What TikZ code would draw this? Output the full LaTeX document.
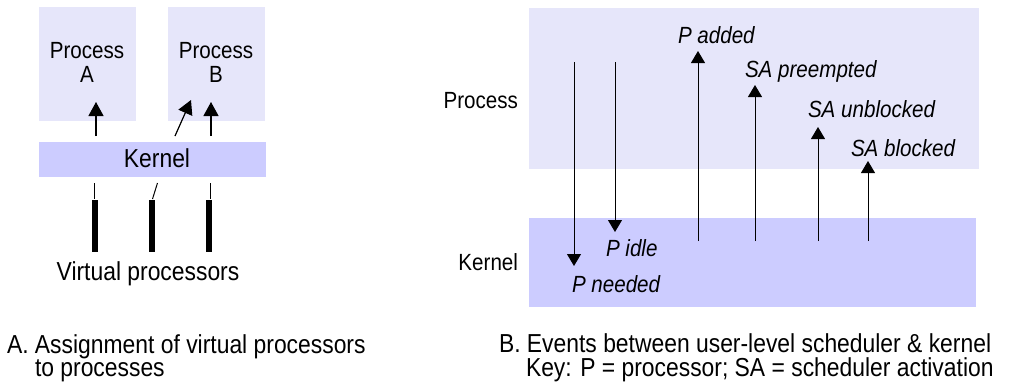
\documentclass[tikz,border=0pt]{standalone}
\usepackage{fontspec}
\setmainfont{Liberation Sans}[FakeStretch=0.88]
\usetikzlibrary{arrows.meta,positioning}
\definecolor{procfill}{HTML}{E6E6FA}
\definecolor{kernfill}{HTML}{CCCCFF}

\begin{document}
\begin{tikzpicture}[x=0.5pt, y=-0.5pt, every node/.style={inner sep=0pt, outer sep=0pt},
  lbl/.style={font=\fontsize{11.7}{14}\selectfont, anchor=base},
  big/.style={font=\fontsize{13}{16}\selectfont, anchor=base},
  captxt/.style={font=\fontsize{13}{16}\selectfont, anchor=base west},
  evt/.style={font=\fontsize{11.7}{14}\selectfont\itshape, anchor=base west},
  arr/.style={-{Triangle[length=7pt,width=7.5pt]}, line width=0.6pt},
  evarr/.style={-{Triangle[length=6pt,width=7pt]}, line width=0.5pt},
  bar/.style={line width=3pt}]
\useasboundingbox (0,0) rectangle (1013,387);
% A: assignment of virtual processors
\fill[procfill] (39,7) rectangle (136,121);
\fill[procfill] (168,7) rectangle (265,121);
\fill[kernfill] (39,142) rectangle (266,177);
\node[lbl] (pa1) at (87,58) {Process};
\node[lbl] (pa2) at (87,82) {A};
\node[lbl] (pb1) at (216,58) {Process};
\node[lbl] (pb2) at (216,82) {B};
\node[big] (kern) at (157,167) {Kernel};
\coordinate (ka) at (96,136);
\coordinate (ka') at (96,102);
\coordinate (kb) at (175,136);
\coordinate (kb') at (191,100);
\coordinate (kc) at (211,136);
\coordinate (kc') at (211,102);
\draw[arr] (ka) -- (ka');
\draw[arr] (kb) -- (kb');
\draw[arr] (kc) -- (kc');
\draw[line width=0.5pt] (94.5,183) -- (94.5,199);
\draw[line width=0.5pt] (157.5,183) -- (152.5,199);
\draw[line width=0.5pt] (210,183) -- (210,199);
\draw[bar] (95,200) -- (95,252);
\draw[bar] (152,200) -- (152,252);
\draw[bar] (209,200) -- (209,252);
\node[big] (vp) at (148,280) {Virtual processors};
\node[captxt] (capA) at (7,353) {A. Assignment of virtual processors};
\node[captxt] (capA2) at (35,376) {to processes};
% B: events between user-level scheduler and kernel
\fill[procfill] (529,8) rectangle (979,169);
\fill[kernfill] (529,218) rectangle (976,307);
\node[lbl, anchor=base east] (lproc) at (518,108) {Process};
\node[lbl, anchor=base east] (lkern) at (518,270) {Kernel};
\coordinate (n1) at (574,62);
\coordinate (n2) at (574,266);
\coordinate (i1) at (615,62);
\coordinate (i2) at (615,232);
\draw[evarr] (n1) -- (n2);
\draw[evarr] (i1) -- (i2);
\node[evt] (pidle) at (606,256) {P idle};
\node[evt] (pneed) at (572,292) {P needed};
\foreach \x/\tip/\lx/\ly/\name/\txt in {698/51/678/43/padd/P added,
    755/85/745/77/sapre/SA preempted, 818/127/808/117/saunb/SA unblocked,
    868/161/851/156/sablk/SA blocked}{
  \coordinate (\name0) at (\x,241);
  \coordinate (\name1) at (\x,\tip);
  \draw[evarr] (\name0) -- (\name1);
  \node[evt] (\name) at (\lx,\ly) {\txt};
}
\node[captxt] (capB) at (499,352) {B. Events between user-level scheduler \& kernel};
\node[captxt] (capB2) at (526,376) {Key: P = processor; SA = scheduler activation};
\end{tikzpicture}
\end{document}
